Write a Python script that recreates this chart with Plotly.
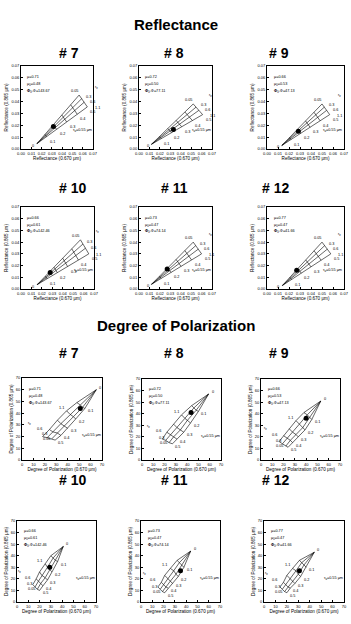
import plotly.graph_objects as go

W, H = 351, 624
FONT = "Liberation Sans"

# ---------------- data ----------------
PANELS = ["# 7", "# 8", "# 9", "# 10", "# 11", "# 12"]
TAU_LABELS = ["0.1", "0.2", "0.3", "0.4", "0.5"]
RADIUS_LABELS = ["0.05", "0.3", "0.6", "1.1"]
GEOM_MU = ["0.71", "0.72", "0.66", "0.66", "0.73", "0.77"]
GEOM_MU0 = ["0.48", "0.50", "0.53", "0.61", "0.47", "0.47"]
GEOM_PHI = ["143.67", "77.11", "47.13", "142.46", "74.14", "41.66"]

REFL_TICKS = [0.0, 0.01, 0.02, 0.03, 0.04, 0.05, 0.06, 0.07]
REFL_TICK_TEXT = ["0.00", "0.01", "0.02", "0.03", "0.04", "0.05", "0.06", "0.07"]
POL_TICKS = [0, 10, 20, 30, 40, 50, 60, 70]
POL_TICK_TEXT = ["0", "10", "20", "30", "40", "50", "60", "70"]

# Reflectance nomograms: origin (tau=0), radius curves at tau = 0.1..0.5, observed point
R7_origin = [0.0155, 0.0045]
R7_x = [[0.0233, 0.0315, 0.0397, 0.0483, 0.0565],
        [0.0238, 0.0325, 0.0412, 0.0503, 0.0590],
        [0.0242, 0.0334, 0.0426, 0.0523, 0.0615],
        [0.0248, 0.0346, 0.0444, 0.0547, 0.0645]]
R7_y = [[0.0123, 0.0205, 0.0287, 0.0373, 0.0455],
        [0.0117, 0.0193, 0.0269, 0.0349, 0.0425],
        [0.0112, 0.0182, 0.0252, 0.0325, 0.0395],
        [0.0104, 0.0166, 0.0228, 0.0293, 0.0355]]
R7_dot = [0.0315, 0.019]

R8_origin = [0.012, 0.004]
R8_x = [[0.0196, 0.0276, 0.0356, 0.0440, 0.0520],
        [0.0201, 0.0287, 0.0372, 0.0462, 0.0547],
        [0.0206, 0.0297, 0.0388, 0.0483, 0.0574],
        [0.0213, 0.0311, 0.0409, 0.0512, 0.0610]]
R8_y = [[0.0105, 0.0173, 0.0241, 0.0312, 0.0380],
        [0.0099, 0.0162, 0.0225, 0.0290, 0.0353],
        [0.0094, 0.0152, 0.0209, 0.0269, 0.0326],
        [0.0088, 0.0138, 0.0188, 0.0240, 0.0290]]
R8_dot = [0.0330, 0.0165]

R9_origin = [0.0135, 0.003]
R9_x = [[0.0204, 0.0277, 0.0350, 0.0427, 0.0500],
        [0.0208, 0.0286, 0.0363, 0.0444, 0.0521],
        [0.0212, 0.0294, 0.0375, 0.0461, 0.0542],
        [0.0218, 0.0305, 0.0392, 0.0483, 0.0570]]
R9_y = [[0.0097, 0.0167, 0.0237, 0.0310, 0.0380],
        [0.0091, 0.0156, 0.0221, 0.0288, 0.0353],
        [0.0086, 0.0145, 0.0205, 0.0267, 0.0326],
        [0.0079, 0.0131, 0.0183, 0.0238, 0.0290]]
R9_dot = [0.0285, 0.015]

R10_origin = [0.0155, 0.0037]
R10_x = [[0.0234, 0.0317, 0.0400, 0.0487, 0.0570],
         [0.0238, 0.0326, 0.0414, 0.0506, 0.0594],
         [0.0243, 0.0336, 0.0428, 0.0525, 0.0618],
         [0.0249, 0.0348, 0.0447, 0.0551, 0.0650]]
R10_y = [[0.0110, 0.0186, 0.0263, 0.0343, 0.0420],
         [0.0103, 0.0172, 0.0242, 0.0315, 0.0384],
         [0.0096, 0.0158, 0.0220, 0.0286, 0.0348],
         [0.0087, 0.0140, 0.0192, 0.0247, 0.0300]]
R10_dot = [0.028, 0.014]

R11_origin = [0.012, 0.004]
R11_x = [[0.0196, 0.0276, 0.0356, 0.0440, 0.0520],
         [0.0201, 0.0285, 0.0370, 0.0459, 0.0544],
         [0.0205, 0.0295, 0.0384, 0.0478, 0.0568],
         [0.0211, 0.0307, 0.0403, 0.0504, 0.0600]]
R11_y = [[0.0108, 0.0180, 0.0252, 0.0328, 0.0400],
         [0.0103, 0.0169, 0.0235, 0.0304, 0.0370],
         [0.0097, 0.0157, 0.0217, 0.0280, 0.0340],
         [0.0089, 0.0141, 0.0193, 0.0248, 0.0300]]
R11_dot = [0.027, 0.017]

R12_origin = [0.014, 0.003]
R12_x = [[0.0208, 0.0280, 0.0352, 0.0428, 0.0500],
         [0.0213, 0.0290, 0.0367, 0.0447, 0.0524],
         [0.0218, 0.0299, 0.0381, 0.0466, 0.0548],
         [0.0224, 0.0312, 0.0400, 0.0492, 0.0580]]
R12_y = [[0.0100, 0.0174, 0.0248, 0.0326, 0.0400],
         [0.0095, 0.0163, 0.0231, 0.0302, 0.0370],
         [0.0089, 0.0151, 0.0213, 0.0278, 0.0340],
         [0.0081, 0.0135, 0.0189, 0.0246, 0.0300]]
R12_dot = [0.027, 0.016]

# Degree of polarization nomograms: apex (tau=0), radius curves at tau = 0.1..0.5, observed point
P7_origin = [65, 60]
P7_x = [[55, 47, 40, 34, 29], [53, 45, 37, 31, 26], [51, 42, 34, 27, 22], [48, 39, 31, 24, 18]]
P7_y = [[44, 35, 27, 21, 17], [45, 37, 29, 23, 18], [47, 39, 31, 24, 19], [49, 42, 34, 26, 20]]
P7_dot = [51, 44]

P8_origin = [59, 57]
P8_x = [[50, 43, 37, 31, 27], [48, 40, 34, 28, 24], [46, 38, 31, 25, 21], [44, 35, 28, 22, 18]]
P8_y = [[42, 32, 24, 18, 14], [43, 34, 26, 20, 15], [45, 36, 28, 22, 17], [47, 39, 31, 24, 18]]
P8_dot = [43.5, 41]

P9_origin = [53, 51]
P9_x = [[45, 39, 33, 28, 24], [43, 37, 31, 26, 22], [41, 34, 28, 23, 19], [38, 31, 25, 20, 16]]
P9_y = [[35, 26, 20, 15, 11], [37, 28, 22, 17, 12], [39, 31, 24, 19, 14], [41, 34, 27, 21, 16]]
P9_dot = [40, 36]

P10_origin = [41, 48]
P10_x = [[36, 31, 27, 23, 20], [34, 29, 25, 21, 18], [32, 27, 22, 19, 16], [30, 25, 20, 17, 14]]
P10_y = [[35, 26, 19, 14, 10], [36, 28, 21, 16, 11], [38, 30, 23, 18, 13], [40, 33, 26, 20, 15]]
P10_dot = [29, 30]

P11_origin = [44, 44]
P11_x = [[38, 33, 28, 24, 21], [36, 31, 26, 22, 19], [34, 29, 24, 20, 17], [32, 26, 21, 18, 15]]
P11_y = [[30, 22, 16, 12, 8], [32, 24, 18, 13, 9], [34, 27, 20, 15, 11], [36, 29, 23, 17, 13]]
P11_dot = [35, 27]

P12_origin = [44, 43]
P12_x = [[37, 32, 27, 23, 20], [35, 30, 25, 21, 18], [33, 28, 23, 19, 16], [31, 25, 20, 17, 14]]
P12_y = [[30, 22, 16, 12, 8], [32, 24, 18, 13, 9], [34, 27, 20, 15, 11], [36, 29, 23, 17, 13]]
P12_dot = [31, 27]

REFL = [(R7_origin, R7_x, R7_y, R7_dot), (R8_origin, R8_x, R8_y, R8_dot),
        (R9_origin, R9_x, R9_y, R9_dot), (R10_origin, R10_x, R10_y, R10_dot),
        (R11_origin, R11_x, R11_y, R11_dot), (R12_origin, R12_x, R12_y, R12_dot)]
POL = [(P7_origin, P7_x, P7_y, P7_dot), (P8_origin, P8_x, P8_y, P8_dot),
       (P9_origin, P9_x, P9_y, P9_dot), (P10_origin, P10_x, P10_y, P10_dot),
       (P11_origin, P11_x, P11_y, P11_dot), (P12_origin, P12_x, P12_y, P12_dot)]

# ---------------- layout (pixel boxes) ----------------
REFL_BOXES = [((21, 93), (66, 149)), ((139, 212), (66, 149)), ((267, 344), (66, 149)),
              ((21, 94), (207, 289)), ((139, 212), (207, 289)), ((267, 344), (207, 289))]
POL_BOXES = [((22, 102), (378, 460)), ((142, 221), (379, 460)), ((261, 340), (379, 460)),
             ((17, 96), (521, 602)), ((141, 220), (521, 602)), ((264, 344), (521, 602))]


def px_x(x):
    return x / W


def px_y(y):
    return 1 - y / H


fig = go.Figure()
annotations = []
LINE = dict(color="black", width=0.6)


def label(x, y, xa, ya, text, f, **kw):
    annotations.append(dict(x=x, y=y, xref=xa, yref=ya, text=text, showarrow=False, font=f, **kw))


def add_panel(n, kind, data, box, k):
    origin, xs, ys, dot = data
    xa = "x" if n == 1 else f"x{n}"
    ya = "y" if n == 1 else f"y{n}"
    for i in range(len(xs)):
        fig.add_trace(go.Scatter(x=[origin[0]] + xs[i], y=[origin[1]] + ys[i], mode="lines",
                                 line=LINE, xaxis=xa, yaxis=ya, hoverinfo="skip", showlegend=False))
    for j in range(len(TAU_LABELS)):
        fig.add_trace(go.Scatter(x=[xs[i][j] for i in range(len(xs))],
                                 y=[ys[i][j] for i in range(len(ys))], mode="lines",
                                 line=LINE, xaxis=xa, yaxis=ya, hoverinfo="skip", showlegend=False))
    fig.add_trace(go.Scatter(x=[dot[0]], y=[dot[1]], mode="markers",
                             marker=dict(color="black", size=5), xaxis=xa, yaxis=ya,
                             hoverinfo="skip", showlegend=False))
    f = dict(family=FONT, size=3.8, color="black")
    if kind == "R":
        label(origin[0], origin[1], xa, ya, "0", f, xanchor="right", xshift=-1, yshift=-2)
        for j, t in enumerate(TAU_LABELS):
            label(xs[-1][j], ys[-1][j], xa, ya, t, f, xanchor="left", xshift=1, yshift=-5)
        label(xs[0][-1], ys[0][-1], xa, ya, RADIUS_LABELS[0], f, xanchor="right", xshift=1, yshift=4)
        for i in range(1, len(RADIUS_LABELS)):
            label(xs[i][-1], ys[i][-1], xa, ya, RADIUS_LABELS[i], f, xanchor="left",
                  xshift=1 + 1.5 * i, yshift=3.5 - 1.5 * i)
        label(xs[0][-1], ys[0][-1], xa, ya, "r<sub>e</sub>", f, xanchor="left", xshift=14, yshift=8)
        tx, ty = 0.7, 0.17
    else:
        label(origin[0], origin[1], xa, ya, "0", f, xanchor="left", xshift=1, yshift=2)
        for j, t in enumerate(TAU_LABELS):
            label(xs[0][j], ys[0][j], xa, ya, t, f, xanchor="left", xshift=1, yshift=-3)
        for i in range(len(RADIUS_LABELS) - 1):
            label(xs[i][-1], ys[i][-1], xa, ya, RADIUS_LABELS[i], f, xanchor="right",
                  xshift=-3, yshift=1 + 4 * i)
        label(xs[-1][1], ys[-1][1], xa, ya, RADIUS_LABELS[-1], f, xanchor="right", xshift=-1, yshift=3)
        label(xs[-1][-1], ys[-1][-1], xa, ya, "r<sub>e</sub>", f, xanchor="right", xshift=-10, yshift=13)
        tx, ty = 0.72, 0.24
    annotations.append(dict(x=tx, y=ty, xref=f"{xa} domain", yref=f"{ya} domain",
                            text="τ<sub>a</sub>=0.55 μm", showarrow=False, font=f, xanchor="left"))
    geo = [f"μ={GEOM_MU[k]}", f"μ<sub>0</sub>={GEOM_MU0[k]}", f"<b>Φ</b><sub>0</sub>-Φ={GEOM_PHI[k]}"]
    for g, line in enumerate(geo):
        annotations.append(dict(x=0.06, y=0.92 - g * 0.085, xref=f"{xa} domain", yref=f"{ya} domain",
                                text=line, showarrow=False, font=f, xanchor="left"))
    (x0, x1), (y0, y1) = box
    ax_common = dict(showline=True, linecolor="black", linewidth=0.8, mirror=True, ticks="inside",
                     ticklen=2, tickwidth=0.6, tickcolor="black", showgrid=False, zeroline=False,
                     tickangle=0, tickfont=dict(family=FONT, size=4, color="black"), automargin=False)
    if kind == "R":
        xt = dict(tickvals=REFL_TICKS, ticktext=REFL_TICK_TEXT, range=[0, 0.07])
        xtitle, ytitle = "Reflectance (0.670 μm)", "Reflectance (0.865 μm)"
    else:
        xt = dict(tickvals=POL_TICKS, ticktext=POL_TICK_TEXT, range=[0, 70])
        xtitle, ytitle = "Degree of Polarization (0.670 μm)", "Degree of Polarization (0.865 μm)"
    tfont = dict(family=FONT, size=4.6, color="black")
    fig.layout["xaxis" if n == 1 else f"xaxis{n}"] = dict(
        domain=[px_x(x0), px_x(x1)], anchor=ya, title=dict(text=xtitle, font=tfont, standoff=2),
        **xt, **ax_common)
    fig.layout["yaxis" if n == 1 else f"yaxis{n}"] = dict(
        domain=[px_y(y1), px_y(y0)], anchor=xa, title=dict(text=ytitle, font=tfont, standoff=2),
        **xt, **ax_common)


n = 1
for k in range(6):
    add_panel(n, "R", REFL[k], REFL_BOXES[k], k)
    n += 1
for k in range(6):
    add_panel(n, "P", POL[k], POL_BOXES[k], k)
    n += 1

big = dict(family=FONT, size=15, color="black")
hdr = dict(family=FONT, size=14, color="black")
annotations.append(dict(x=px_x(176), y=px_y(14), xref="paper", yref="paper", text="<b>Reflectance</b>",
                        showarrow=False, font=big))
annotations.append(dict(x=px_x(176), y=px_y(325), xref="paper", yref="paper",
                        text="<b>Degree of Polarization</b>", showarrow=False, font=big))
HEADER_X = [57, 174, 291]
HEADER_Y = [43, 178, 353, 490]
for r, hy in enumerate(HEADER_Y):
    for c, hx in enumerate(HEADER_X):
        annotations.append(dict(x=px_x(hx), y=px_y(hy), xref="paper", yref="paper",
                                text=f"<b>{PANELS[(r % 2) * 3 + c]}</b>", showarrow=False, font=hdr))

fig.update_layout(width=W, height=H, margin=dict(l=0, r=0, t=0, b=0), paper_bgcolor="white",
                  plot_bgcolor="white", annotations=annotations, showlegend=False)
fig.write_html("out.html")
